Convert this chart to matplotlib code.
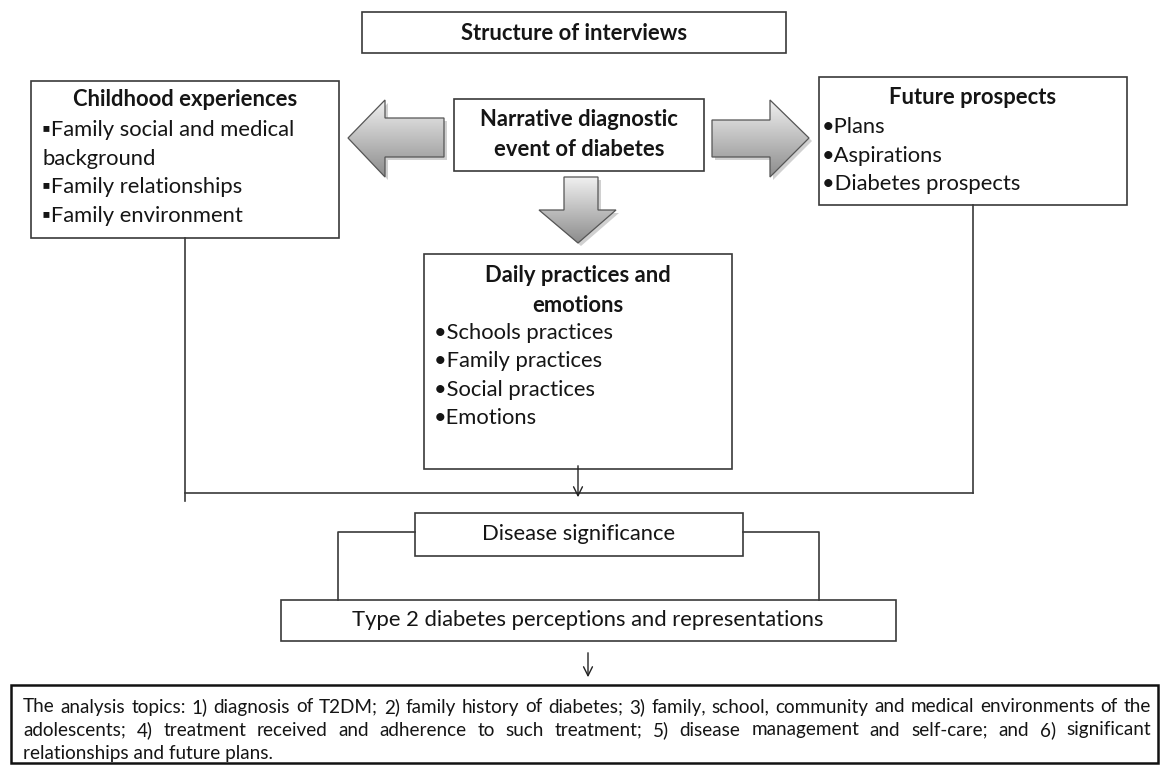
import numpy as np
import matplotlib.pyplot as plt
from matplotlib.patches import Rectangle, Polygon

plt.rcParams['font.family'] = ['Lato', 'DejaVu Sans']

# Texte des boîtes
title_txt = "Structure of interviews"
child_head = "Childhood experiences"
child_items = ["\u25aaFamily social and medical", "background",
               "\u25aaFamily relationships", "\u25aaFamily environment"]
narr_lines = ["Narrative diagnostic", "event of diabetes"]
future_head = "Future prospects"
future_items = ["\u2022Plans", "\u2022Aspirations", "\u2022Diabetes prospects"]
daily_head = ["Daily practices and", "emotions"]
daily_items = ["\u2022Schools practices", "\u2022Family practices",
               "\u2022Social practices", "\u2022Emotions"]
disease_txt = "Disease significance"
type2_txt = "Type 2 diabetes perceptions and representations"
topics_lines = [
    "The analysis topics: 1) diagnosis of T2DM; 2) family history of diabetes; 3) family, school, community and medical environments of the",
    "adolescents; 4) treatment received and adherence to such treatment; 5) disease management and self-care; and 6) significant",
    "relationships and future plans.",
]

# Boîtes (x0, y0, x1, y1) en pixels
boxes = {
    "title": (362, 12, 786, 53),
    "child": (31, 81, 339, 238),
    "narr": (454, 99, 704, 171),
    "future": (819, 77, 1127, 205),
    "daily": (424, 254, 732, 469),
    "disease": (415, 513, 743, 556),
    "type2": (281, 600, 896, 641),
}

# Flèches pleines
arrows = [
    [(444, 118), (385, 118), (385, 100), (348, 138), (385, 177), (385, 157), (444, 157)],
    [(712, 120), (770, 120), (770, 100), (809, 138), (770, 177), (770, 157), (712, 157)],
    [(564, 177), (598, 177), (598, 210), (616, 210), (578, 243), (539, 210), (564, 210)],
]

col_txt = "#151515"
col_edge = "#3a3a3a"

fig = plt.figure(figsize=(11.69, 7.67), dpi=100)
ax = fig.add_axes([0, 0, 1, 1])
ax.set_xlim(0, 1169)
ax.set_ylim(767, 0)
ax.axis('off')

for k, (x0, y0, x1, y1) in boxes.items():
    ax.add_patch(Rectangle((x0, y0), x1 - x0, y1 - y0, fill=False,
                           ec=col_edge, lw=1.2))

# Flèches grises avec dégradé et ombre
grad = np.linspace(0.94, 0.55, 256).reshape(-1, 1)
for pts in arrows:
    pts = np.array(pts, dtype=float)
    sh = Polygon(pts + [3, 3], closed=True, fc="#7a7a7a", ec="none", alpha=0.35)
    ax.add_patch(sh)
    poly = Polygon(pts, closed=True, fc="none", ec="#555555", lw=0.9)
    xmin, ymin = pts.min(axis=0)
    xmax, ymax = pts.max(axis=0)
    im = ax.imshow(grad, cmap='gray', vmin=0, vmax=1, origin='upper',
                   extent=(xmin, xmax, ymax, ymin), aspect='auto', zorder=2)
    clip = Polygon(pts, closed=True, transform=ax.transData)
    im.set_clip_path(clip)
    poly.set_zorder(3)
    ax.add_patch(poly)
ax.set_xlim(0, 1169)
ax.set_ylim(767, 0)

# Textes
fs = 15.8
ax.text(574, 33, title_txt, ha='center', va='center', fontsize=fs, fontweight='bold', color=col_txt)

ax.text(185, 100, child_head, ha='center', va='center', fontsize=fs, fontweight='bold', color=col_txt)
for i, s in enumerate(child_items):
    ax.text(42, 130 + i * 28.7, s, ha='left', va='center', fontsize=fs, color=col_txt)

for i, s in enumerate(narr_lines):
    ax.text(579, 120 + i * 30, s, ha='center', va='center', fontsize=fs, fontweight='bold', color=col_txt)

ax.text(973, 97, future_head, ha='center', va='center', fontsize=fs, fontweight='bold', color=col_txt)
for i, s in enumerate(future_items):
    ax.text(822, 127 + i * 28.5, s, ha='left', va='center', fontsize=fs, color=col_txt)

for i, s in enumerate(daily_head):
    ax.text(578, 275 + i * 30, s, ha='center', va='center', fontsize=fs, fontweight='bold', color=col_txt)
for i, s in enumerate(daily_items):
    ax.text(434, 333 + i * 28.3, s, ha='left', va='center', fontsize=fs, color=col_txt)

ax.text(579, 534, disease_txt, ha='center', va='center', fontsize=fs, color=col_txt)
ax.text(588, 620, type2_txt, ha='center', va='center', fontsize=fs, color=col_txt)

# Connecteurs
lc = "#3a3a3a"
ax.plot([185, 185], [238, 501], color=lc, lw=1.2)
ax.plot([185, 973], [493, 493], color=lc, lw=1.2)
ax.plot([973, 973], [205, 493], color=lc, lw=1.2)
ax.plot([415, 338, 338], [532, 532, 600], color=lc, lw=1.2)
ax.plot([743, 819, 819], [532, 532, 600], color=lc, lw=1.2)
ax.annotate('', xy=(578, 500), xytext=(578, 463),
            arrowprops=dict(arrowstyle='->', color='#222222', lw=1.0, mutation_scale=16))
ax.annotate('', xy=(588, 680), xytext=(588, 650),
            arrowprops=dict(arrowstyle='->', color='#222222', lw=1.0, mutation_scale=16))

# Boîte du bas, texte justifié
ax.add_patch(Rectangle((11, 685), 1147, 78, fill=False, ec="#111111", lw=1.8))
fs2 = 13.6
x_left, x_right = 23, 1151
fig.canvas.draw()
rend = fig.canvas.get_renderer()
for li, line in enumerate(topics_lines):
    y = 707 + li * 23
    words = line.split(' ')
    if li == len(topics_lines) - 1:
        ax.text(x_left, y, line, ha='left', va='center', fontsize=fs2, color=col_txt)
        continue
    arts = [ax.text(0, y, w, ha='left', va='center', fontsize=fs2, color=col_txt) for w in words]
    widths = [a.get_window_extent(rend).width for a in arts]
    gap = (x_right - x_left - sum(widths)) / (len(words) - 1)
    x = x_left
    for a, w in zip(arts, widths):
        a.set_x(x)
        x += w + gap

fig.savefig("out.png", dpi=100)
